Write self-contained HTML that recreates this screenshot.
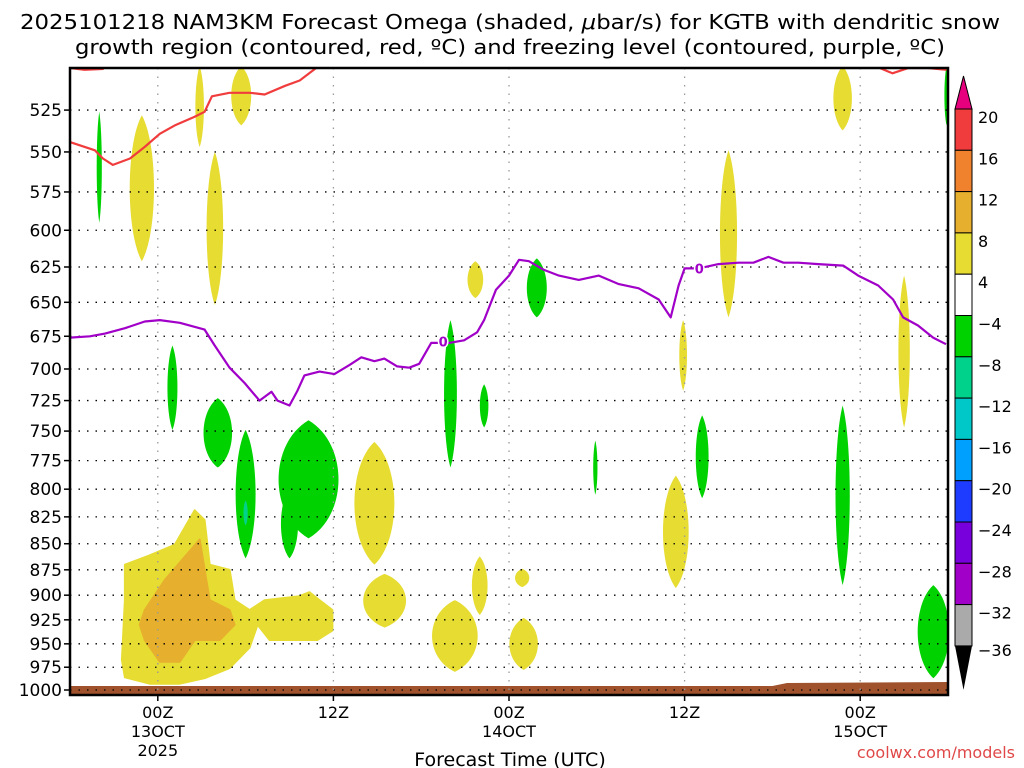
<!DOCTYPE html>
<html><head><meta charset="utf-8"><style>
html,body{margin:0;padding:0;background:#fff;}
svg{display:block;font-family:"DejaVu Sans","Liberation Sans",sans-serif;}
</style></head><body>
<svg id="chart" width="1024" height="768" viewBox="0 0 1024 768" xmlns="http://www.w3.org/2000/svg">
<text x="510" y="29" font-size="20" text-anchor="middle" textLength="980" lengthAdjust="spacingAndGlyphs">2025101218 NAM3KM Forecast Omega (shaded, <tspan font-style="italic">μ</tspan>bar/s) for KGTB with dendritic snow</text>
<text x="510" y="54" font-size="20" text-anchor="middle" textLength="870" lengthAdjust="spacingAndGlyphs">growth region (contoured, red, ºC) and freezing level (contoured, purple, ºC)</text>
<g id="plot"></g>
<g id="axes"></g>
<g id="cbar"></g>
<text x="510" y="766" font-size="19" text-anchor="middle">Forecast Time (UTC)</text>
<text x="1015" y="758" font-size="16" text-anchor="end" fill="#e04848">coolwx.com/models</text>
</svg>
<script>
// ---- data ----
const pressureTicks=[525,550,575,600,625,650,675,700,725,750,775,800,825,850,875,900,925,950,975,1000];
const timeTickHours=[0,12,24,36,48];
const timeTickLabels=[["00Z","13OCT","2025"],["12Z"],["00Z","14OCT"],["12Z"],["00Z","15OCT"]];
const redHours=[-6,-4.3,-3.75,-3.07,-1.9,-0.9,0.14,1.16,2.5,3.2,3.7,4.9,6.3,7.3,8.7,9.7,10.9];
const redPress=[544,549,554,558,554,547,539,534,529,526,517,515,515,516,511,508,500.5];
const redTopLeftHours=[-6,-5,-3.7];
const redTopLeftPress=[501,502,501.5];
const redRightHours=[49.2,50.2,51.3,52.6,53.9];
const redRightPress=[500.5,504,501,501,502];
const purpleHours=[-6,-4.64,-3.61,-2.25,-0.89,0.14,1.5,3.2,3.89,4.91,5.93,6.95,7.77,8.18,9,9.55,10.02,11.05,12.07,13.09,13.91,14.8,15.48,16.36,17.18,17.86,18.68,19.9,20.93,21.82,22.3,23.11,24,24.68,25.36,26.39,27.41,28.77,30.14,31.5,32.86,34.23,35.05,35.59,36,36.96,38.32,39.68,40.7,41.73,42.75,43.77,45.14,46.84,47.86,49.23,50.25,50.93,51.95,52.98,53.86];
const purplePress=[676,675,673,669,664,663,665,670,682,699,711,725,718,725,729,717,705,702,704,697,691,694,692,698,699,696,680,680,678,672,663,641,631,620,621,627,631,634,631,637,640,648,661,638,626,626,623,622,622,618,622,622,623,624,631,638,648,661,667,676,681];
// lens blobs: center hour, half-width hours, top pressure, bottom pressure
const yellowH=[-1.09,2.86,3.9,5.7,14.8,21.7,35.9,39,46.8,51,35.4,15.5,20.3,22,25,24.9];
const yellowW=[0.85,0.3,0.58,0.7,1.4,0.55,0.27,0.6,0.65,0.4,0.9,1.5,1.6,0.55,1.0,0.5];
const yellowTop=[528,500,550,500,759,621,663,549,500,631,788,879,905,862,923,874];
const yellowBot=[621,547,652,534,870,647,717,661,537,747,893,933,980,920,978,892];
const greenH=[-4.0,1.0,4.1,6.0,10.3,9.0,20,22.3,25.9,29.9,37.2,46.8,53,53.9];
const greenW=[0.18,0.35,1.0,0.7,2.1,0.6,0.45,0.3,0.7,0.15,0.45,0.5,1.1,0.15];
const greenTop=[526,682,723,749,741,800,663,712,619,758,737,729,890,500];
const greenBot=[595,749,781,864,845,864,781,747,661,805,808,890,987,534];
const tealH=[6.0], tealW=[0.15], tealTop=[810], tealBot=[833];
// big lower-left polygons (hour, pressure)
const bigYellowH=[-2.25,-0.55,1.16,2.52,3.2,3.55,4.91,5.25,6.27,7.3,9.68,10.36,11.05,11.93,11.93,10.9,7.64,6.82,6.27,4.91,3.2,1.5,-0.55,-2.25,-2.45,-2.25];
const bigYellowP=[870,861,851,819,828,870,875,905,915,905,901,897,905,915,936,946,946,930,954,976,987,993,993,986,967,905];
const bigOrangeH=[-0.89,0.48,2.86,3.2,3.55,4.91,5.25,4.23,2.52,1.5,0.14,-0.89,-1.23];
const bigOrangeP=[915,885,846,875,905,915,930,946,946,969,969,946,930];
const cbarLabels=["20","16","12","8","4","−4","−8","−12","−16","−20","−24","−28","−32","−36"];
const cbarColors=["#f03c3c","#f0822d","#e6af2d","#e6dc32","#ffffff","#00d200","#00d28c","#00c8c8","#00a0ff","#1e3cff","#7800dc","#a000c8","#aaaaaa"];
// ---- scales ----
const X0=70,X1=948,Y0=68,Y1=695;
const hMin=-6,hMax=54;
function xS(h){return X0+(h-hMin)/(hMax-hMin)*(X1-X0);}
function yS(p){return 690-900*Math.log(1000/p);}
const NS="http://www.w3.org/2000/svg";
function mk(tag,attrs,parent){const e=document.createElementNS(NS,tag);for(const k in attrs)e.setAttribute(k,attrs[k]);parent.appendChild(e);return e;}
const plot=document.getElementById('plot'),axes=document.getElementById('axes'),cbar=document.getElementById('cbar');
mk('defs',{},plot).innerHTML='<clipPath id="pc"><rect x="70" y="68" width="878" height="627"/></clipPath>';
const g=mk('g',{'clip-path':'url(#pc)'},plot);
function blob(hc,hw,pt,pb,fill,name){
  const cx=xS(hc),rx=(xS(hc+hw)-cx)*1.3,yt=yS(pt),yb=yS(pb),hh=yb-yt;
  const d=`M${cx},${yt} C${cx+rx},${yt+hh*0.2} ${cx+rx},${yb-hh*0.2} ${cx},${yb} C${cx-rx},${yb-hh*0.2} ${cx-rx},${yt+hh*0.2} ${cx},${yt} Z`;
  const e=mk('path',{d:d,fill:fill},g);
  
  
}
function poly(hs,ps,fill,name){
  const pts=hs.map((h,i)=>xS(h).toFixed(1)+','+yS(ps[i]).toFixed(1)).join(' ');
  const e=mk('polygon',{points:pts,fill:fill,stroke:fill,'stroke-width':2,'stroke-linejoin':'round'},g);
  
  
}
poly(bigYellowH,bigYellowP,'#e6dc32','omega-rising-region');
poly(bigOrangeH,bigOrangeP,'#e6af2d','omega-strong-rising-region');
yellowH.forEach((h,i)=>blob(h,yellowW[i],yellowTop[i],yellowBot[i],'#e6dc32','omega-positive-blob'));
greenH.forEach((h,i)=>blob(h,greenW[i],greenTop[i],greenBot[i],'#00d200','omega-negative-blob'));
tealH.forEach((h,i)=>blob(h,tealW[i],tealTop[i],tealBot[i],'#00d28c','omega-strong-negative-blob'));
// ground
const gr=mk('path',{d:`M70,${686} L${xS(42)},686 L${xS(43)},683 L948,682 L948,695 L70,695 Z`,fill:'#a0522d'},g);


// grid
pressureTicks.forEach(p=>{
  const l=mk('line',{x1:X0,x2:X1,y1:yS(p),y2:yS(p),stroke:'#000','stroke-width':1.3,'stroke-dasharray':'1.5,7'},g);
  
  
});
timeTickHours.forEach(h=>{
  const l=mk('line',{x1:xS(h),x2:xS(h),y1:Y0,y2:Y1,stroke:'#999','stroke-width':1.3,'stroke-dasharray':'1.5,7'},g);
  
  
});
function line(hs,ps,color,name){
  const d=hs.map((h,i)=>(i?'L':'M')+xS(h).toFixed(1)+','+yS(ps[i]).toFixed(1)).join(' ');
  const e=mk('path',{d:d,fill:'none',stroke:color,'stroke-width':2.2,'stroke-linejoin':'round'},g);
  
  
}
line(redHours,redPress,'#f03c3c','dgz-contour-line');
line(redTopLeftHours,redTopLeftPress,'#f03c3c','dgz-contour-line-top');
line(redRightHours,redRightPress,'#f03c3c','dgz-contour-line-right');
line(purpleHours,purplePress,'#a000c8','freezing-level-line');
[[19.5,679],[37,626]].forEach(([h,p])=>{
  const t=mk('text',{x:xS(h),y:yS(p)+5,'font-size':13,'font-weight':'bold',fill:'#a000c8','text-anchor':'middle',stroke:'#fff','stroke-width':3,'paint-order':'stroke'},g);
  t.textContent='0';
  
  
});
// frame
const fr=mk('rect',{x:X0,y:Y0,width:X1-X0,height:Y1-Y0,fill:'none',stroke:'#000','stroke-width':2.5},axes);


pressureTicks.forEach(p=>{
  mk('line',{x1:X0-6,x2:X0,y1:yS(p),y2:yS(p),stroke:'#000','stroke-width':1.5},axes);
  const t=mk('text',{x:62,y:yS(p)+6,'font-size':17,'text-anchor':'end'},axes);
  t.textContent=String(p);
  
  
});
timeTickHours.forEach((h,i)=>{
  mk('line',{x1:xS(h),x2:xS(h),y1:Y1,y2:Y1+6,stroke:'#000','stroke-width':1.5},axes);
  timeTickLabels[i].forEach((s,j)=>{
    const t=mk('text',{x:xS(h),y:718+j*19,'font-size':16,'text-anchor':'middle'},axes);
    t.textContent=s;
    
    
  });
});
// colorbar
const cx0=955,cw=17,ct=109,ch=41.3;
mk('polygon',{points:`${cx0},${ct} ${cx0+cw},${ct} ${cx0+cw/2},${ct-33}`,fill:'#e6007e',stroke:'#000','stroke-width':1},cbar);
cbarColors.forEach((c,i)=>{
  const r=mk('rect',{x:cx0,y:ct+i*ch,width:cw,height:ch,fill:c,stroke:'#000','stroke-width':1},cbar);
  
  
});
const cb=ct+cbarColors.length*ch;
mk('polygon',{points:`${cx0},${cb} ${cx0+cw},${cb} ${cx0+cw/2},${cb+44}`,fill:'#000'},cbar);
cbarLabels.forEach((s,i)=>{
  const t=mk('text',{x:978,y:ct+i*ch+ (i===cbarLabels.length-1? 10:14),'font-size':16},cbar);
  t.textContent=s;
  
  
});
</script>
</body></html>
